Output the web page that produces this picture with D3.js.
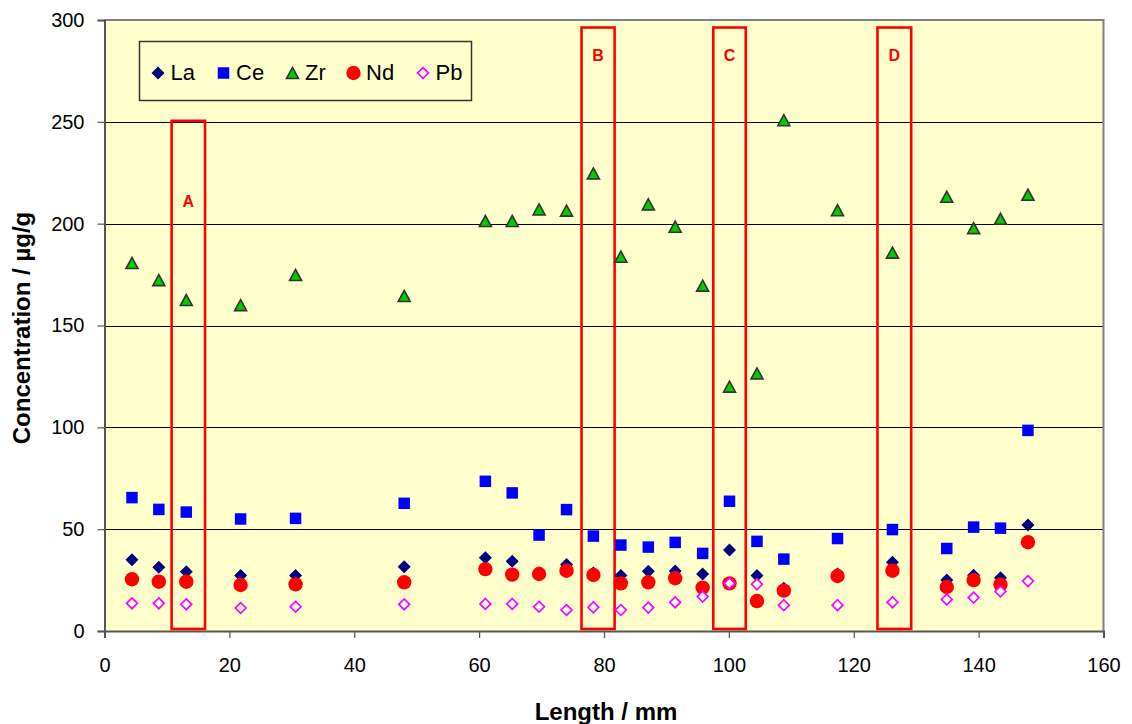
<!DOCTYPE html>
<html>
<head>
<meta charset="utf-8">
<script src="https://cdn.jsdelivr.net/npm/d3@7"></script>
<style>
  html, body { margin: 0; padding: 0; background: #ffffff; }
  svg { display: block; font-family: Arial, "Liberation Sans", sans-serif; }
</style>
</head>
<body>
<svg id="chart" width="1132" height="724"></svg>
<script>
// Sampling positions along the rod (mm)
const lengths = [4.4, 8.7, 13.1, 21.8, 30.6, 48.0, 61.0, 65.3, 69.6, 74.0, 78.3, 82.7,
                 87.1, 91.4, 95.8, 100.1, 104.5, 108.8, 117.4, 126.2, 134.9, 139.2, 143.5, 147.9];

// Concentrations (µg/g) per element, one value per sampling position
const la = [35.0, 31.3, 29.1, 27.2, 27.2, 31.6, 36.0, 34.2, 28.5, 32.7, 28.5, 27.3,
            29.3, 29.5, 28.0, 39.8, 27.3, 21.0, 28.0, 33.8, 25.0, 27.4, 26.2, 52.0];
const ce = [65.5, 59.7, 58.4, 55.0, 55.3, 62.7, 73.5, 67.8, 47.1, 59.6, 46.6, 42.2,
            41.2, 43.5, 38.1, 63.7, 44.0, 35.3, 45.4, 49.8, 40.5, 51.0, 50.5, 98.5];
const zr = [180.7, 172.3, 162.5, 160.0, 174.8, 164.5, 201.3, 201.3, 207.0, 206.4, 224.7, 183.8,
            209.5, 198.5, 169.6, 120.0, 126.5, 250.8, 206.6, 185.8, 213.2, 197.8, 202.4, 214.2];
const nd = [25.4, 24.2, 24.2, 22.6, 22.9, 23.9, 30.4, 27.7, 28.0, 29.6, 27.5, 23.4,
            23.9, 25.9, 21.3, 23.4, 14.7, 19.8, 27.0, 29.6, 21.6, 25.0, 22.8, 43.6];
const pb = [13.6, 13.6, 13.1, 11.3, 11.9, 13.1, 13.3, 13.3, 11.9, 10.3, 11.6, 10.3,
            11.5, 14.1, 16.9, 23.4, 22.9, 12.7, 12.7, 14.1, 15.5, 16.4, 19.4, 24.5];

// Axis ticks
const xTicks = [0, 20, 40, 60, 80, 100, 120, 140, 160];
const yTicks = [0, 50, 100, 150, 200, 250, 300];

// Marked zones along the rod: x range (mm), upper edge and label height (µg/g)
const zoneNames = ["A", "B", "C", "D"];
const zoneFrom  = [10.75, 76.4, 97.5, 123.8];
const zoneTo    = [16.1, 81.7, 102.7, 129.2];
const zoneTop   = [250.5, 296.3, 296.3, 296.3];
const zoneLabel = [210.8, 282.8, 282.8, 282.8];
const zoneBottom = 1;

// ---- drawing ----
const svg = d3.select("#chart");
const plot = { left: 104.5, right: 1103.5, top: 20, bottom: 631 };

const x = d3.scaleLinear().domain([0, 160]).range([plot.left, plot.right]);
const y = d3.scaleLinear().domain([0, 300]).range([plot.bottom, plot.top]);

// marker path builders
const shapes = {
  diamond: r => `M0,${-r}L${r},0L0,${r}L${-r},0Z`,
  square: s => `M${-s/2},${-s/2}h${s}v${s}h${-s}Z`,
  triangle: w => `M0,${-w*0.46}L${w/2},${w*0.46}L${-w/2},${w*0.46}Z`,
  circle: r => `M${r},0A${r},${r} 0 1,1 ${-r},0A${r},${r} 0 1,1 ${r},0Z`
};

const series = [
  { name: "La", values: la, path: shapes.diamond(6.5), fill: "#000080", stroke: "none", sw: 0 },
  { name: "Ce", values: ce, path: shapes.square(11.5), fill: "#0000ff", stroke: "none", sw: 0 },
  { name: "Zr", values: zr, path: shapes.triangle(12), fill: "#00cc00", stroke: "#333333", sw: 1.6 },
  { name: "Nd", values: nd, path: shapes.circle(7.2), fill: "#ff0000", stroke: "none", sw: 0 },
  { name: "Pb", values: pb, path: shapes.diamond(5.4), fill: "#ffffff", stroke: "#ff00ff", sw: 1.7 }
];

// plot background
svg.append("rect")
  .attr("x", plot.left).attr("y", plot.top)
  .attr("width", plot.right - plot.left).attr("height", plot.bottom - plot.top)
  .attr("fill", "#ffffcc");

// horizontal gridlines
svg.append("g").selectAll("line")
  .data(yTicks.filter(v => v > 0 && v < 300))
  .join("line")
  .attr("x1", plot.left).attr("x2", plot.right)
  .attr("y1", d => Math.round(y(d)) + 0.5).attr("y2", d => Math.round(y(d)) + 0.5)
  .attr("stroke", "#000000").attr("stroke-width", 1);

// plot frame (top and right)
svg.append("path")
  .attr("d", `M${plot.left},${plot.top}H${plot.right}V${plot.bottom}`)
  .attr("fill", "none").attr("stroke", "#808080").attr("stroke-width", 2);

// axes
const yAxis = d3.axisLeft(y).tickValues(yTicks).tickSize(7).tickPadding(13);
const xAxis = d3.axisBottom(x).tickValues(xTicks).tickSize(7).tickPadding(20);

const gy = svg.append("g").attr("transform", `translate(${plot.left},0)`).call(yAxis);
const gx = svg.append("g").attr("transform", `translate(0,${plot.bottom})`).call(xAxis);

[gy, gx].forEach(g => {
  g.select(".domain").attr("stroke", "#555555").attr("stroke-width", 2);
  g.selectAll(".tick line").attr("stroke", "#555555").attr("stroke-width", 1.2);
  g.selectAll(".tick text")
    .attr("fill", "#000000")
    .style("font-size", "20px")
    .style("font-family", "Arial, 'Liberation Sans', sans-serif");
});

// marked zones
const zones = zoneNames.map((n, i) => ({ name: n, x0: zoneFrom[i], x1: zoneTo[i], top: zoneTop[i], label: zoneLabel[i] }));
const gz = svg.append("g");
gz.selectAll("rect")
  .data(zones)
  .join("rect")
  .attr("x", d => x(d.x0)).attr("width", d => x(d.x1) - x(d.x0))
  .attr("y", d => y(d.top)).attr("height", d => y(zoneBottom) - y(d.top))
  .attr("fill", "none").attr("stroke", "#ff0000").attr("stroke-width", 2.6);
gz.selectAll("text")
  .data(zones)
  .join("text")
  .attr("x", d => (x(d.x0) + x(d.x1)) / 2)
  .attr("y", d => y(d.label))
  .attr("text-anchor", "middle").attr("dominant-baseline", "central")
  .attr("fill", "#ff0000").style("font-weight", "bold").style("font-size", "16px")
  .text(d => d.name);

// data markers
series.forEach(s => {
  svg.append("g").selectAll("path")
    .data(s.values.map((v, i) => ({ x: lengths[i], v })))
    .join("path")
    .attr("transform", d => `translate(${x(d.x)},${y(d.v)})`)
    .attr("d", s.path)
    .attr("fill", s.fill)
    .attr("stroke", s.stroke)
    .attr("stroke-width", s.sw);
});

// legend
const legend = svg.append("g");
legend.append("rect")
  .attr("x", 139.5).attr("y", 41.5).attr("width", 332).attr("height", 59)
  .attr("fill", "#ffffcc").attr("stroke", "#333333").attr("stroke-width", 1.5);
const legendX = [158, 223.5, 292.5, 353.5, 423];
series.forEach((s, i) => {
  legend.append("path")
    .attr("transform", `translate(${legendX[i]},73)`)
    .attr("d", s.path)
    .attr("fill", s.fill).attr("stroke", s.stroke).attr("stroke-width", s.sw);
  legend.append("text")
    .attr("x", legendX[i] + 12.5).attr("y", 80)
    .style("font-size", "22px").attr("fill", "#000000")
    .text(s.name);
});

// axis titles
svg.append("text")
  .attr("x", 606).attr("y", 720)
  .attr("text-anchor", "middle")
  .style("font-size", "24px").style("font-weight", "bold")
  .text("Length / mm");

svg.append("text")
  .attr("transform", "translate(30,328) rotate(-90)")
  .attr("text-anchor", "middle")
  .style("font-size", "24px").style("font-weight", "bold")
  .text("Concentration / µg/g");
</script>
</body>
</html>
